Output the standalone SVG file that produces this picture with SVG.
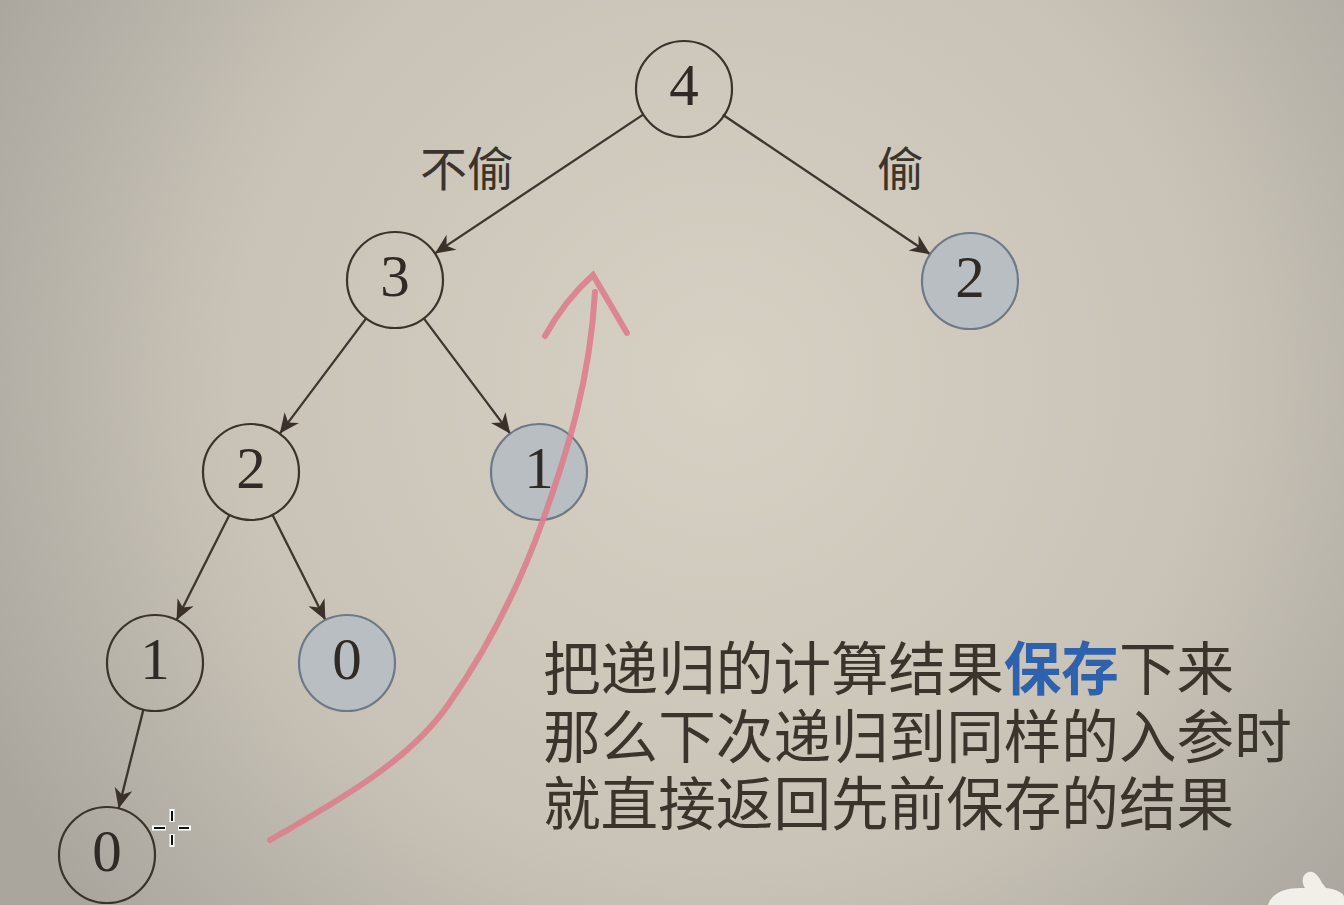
<svg xmlns="http://www.w3.org/2000/svg" width="1344" height="905" viewBox="0 0 1344 905">
<defs>
<radialGradient id="bg" cx="720" cy="380" r="820" gradientUnits="userSpaceOnUse">
<stop offset="0" stop-color="#d7d1c4"/>
<stop offset="0.6" stop-color="#c9c3b7"/>
<stop offset="1" stop-color="#aaa69e"/>
</radialGradient>
<marker id="ah" markerUnits="userSpaceOnUse" markerWidth="24" markerHeight="24" viewBox="-22 -12 24 24" refX="0" refY="0" orient="auto">
<path d="M0,0 L-20,-9 L-14,0 L-20,9 Z" fill="#3a322a"/>
</marker>
<style>
.n{fill:none;stroke:#3a332b;stroke-width:2.2}
.g{fill:#b9bec3;stroke:#6d7987;stroke-width:2.2}
.d{font-family:"Liberation Serif","DejaVu Serif",serif;font-size:59px;fill:#2f2a25;text-anchor:middle}
.e{stroke:#3d362e;stroke-width:2.3;fill:none;marker-end:url(#ah)}
.lab{font-family:"Noto Sans CJK SC","Noto Sans",sans-serif;font-size:47px;fill:#3a342c}
.t{font-family:"Noto Sans CJK SC","Noto Sans",sans-serif;font-size:57.6px;fill:#3a342c}
.b{fill:#2f62ad;font-weight:bold}
</style>
</defs>
<rect width="1344" height="905" fill="url(#bg)"/>
<g id="connectors">
<line class="e" x1="643.1" y1="114.6" x2="434.9" y2="253.4"/>
<line class="e" x1="722.8" y1="114.8" x2="930.2" y2="254.2"/>
<line class="e" x1="366.2" y1="318.4" x2="279.8" y2="433.6"/>
<line class="e" x1="423.8" y1="318.4" x2="510.2" y2="433.6"/>
<line class="e" x1="229.4" y1="514.9" x2="176.6" y2="620.1"/>
<line class="e" x1="272.6" y1="514.9" x2="325.4" y2="620.1"/>
<line class="e" x1="143.4" y1="709.6" x2="118.6" y2="808.4"/>
</g>
<g id="labels">
<text class="lab" x="420" y="186">不偷</text>
<text class="lab" x="877" y="186">偷</text>
</g>
<g id="n4"><circle class="n" cx="684" cy="89" r="48"/><text class="d" x="684" y="105">4</text></g>
<g id="n3"><circle class="n" cx="395" cy="280" r="48"/><text class="d" x="395" y="296">3</text></g>
<g id="n2r"><circle class="g" cx="970" cy="281" r="48"/><text class="d" x="970" y="297">2</text></g>
<g id="n2"><circle class="n" cx="251" cy="472" r="48"/><text class="d" x="251" y="488">2</text></g>
<g id="n1g"><circle class="g" cx="539" cy="472" r="48"/><text class="d" x="539" y="488">1</text></g>
<g id="n1"><circle class="n" cx="155" cy="663" r="48"/><text class="d" x="155" y="679">1</text></g>
<g id="n0g"><circle class="g" cx="347" cy="663" r="48"/><text class="d" x="347" y="679">0</text></g>
<g id="n0"><circle class="n" cx="107" cy="855" r="48"/><text class="d" x="107" y="871">0</text></g>
<g id="red" fill="none" stroke="#dc7f8c" stroke-width="6" stroke-linecap="round" opacity="0.9">
<path d="M270,840 C340,800 410,760 448,705 C488,648 518,590 543,520 C568,450 590,380 595,292"/>
<path d="M545,336 Q565,300 593,275 L627,333"/>
</g>
<g id="text">
<text class="t" x="543" y="690">把递归的计算结果<tspan class="b">保存</tspan>下来</text>
<text class="t" x="543" y="758">那么下次递归到同样的入参时</text>
<text class="t" x="543" y="825">就直接返回先前保存的结果</text>
</g>
<g id="cursor" stroke-linecap="butt">
<g stroke="#fff" stroke-width="5">
<line x1="152" y1="828" x2="166" y2="828"/><line x1="178" y1="828" x2="191" y2="828"/>
<line x1="172" y1="809" x2="172" y2="822"/><line x1="172" y1="834" x2="172" y2="847"/>
</g>
<g stroke="#111" stroke-width="2">
<line x1="154" y1="828" x2="165" y2="828"/><line x1="179" y1="828" x2="189" y2="828"/>
<line x1="172" y1="811" x2="172" y2="821"/><line x1="172" y1="835" x2="172" y2="845"/>
</g>
</g>
<path id="overlay" d="M1268,905 C1272,893 1284,888 1300,888 L1305,888 C1301,882 1302,874 1309,872 C1314,871 1318,875 1322,883 L1326,888 C1336,889 1344,893 1344,897 L1344,905 Z" fill="#f2efe8"/>
</svg>
